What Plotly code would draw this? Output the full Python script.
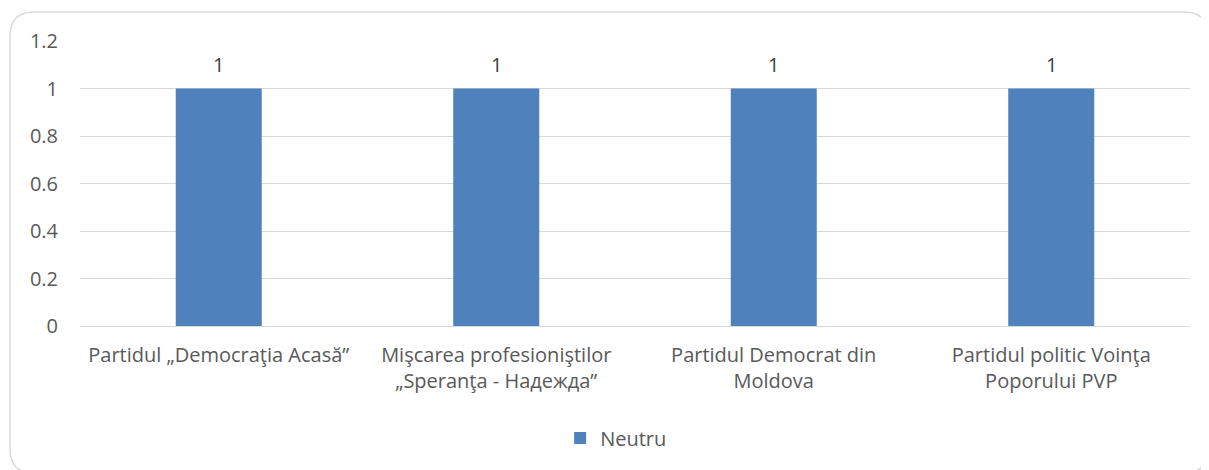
import plotly.graph_objects as go

categories = [
    "Partidul „Democraţia Acasă”",
    "Mişcarea profesioniştilor<br>„Speranţa - Надежда”",
    "Partidul Democrat din<br>Moldova",
    "Partidul politic Voinţa<br>Poporului PVP",
]
series_name = "Neutru"
values = [1, 1, 1, 1]
y_ticks = [0, 0.2, 0.4, 0.6, 0.8, 1, 1.2]
y_tick_labels = ["0", "0.2", "0.4", "0.6", "0.8", "1", "1.2"]

# page body has an 8px margin; compensate so the figure fills the window
OFF = 8
W, H = 1209 - OFF, 470 - OFF
ML, MR, MT, MB = 80 - OFF, 19, 41 - OFF, 144
PW, PH = W - ML - MR, H - MT - MB

FONT = "Open Sans, sans-serif"
GREY = "#595959"
FS = 20

fig = go.Figure()
fig.add_trace(go.Bar(
    x=categories, y=values, name=series_name,
    marker=dict(color="#4f81bd", line=dict(width=0)),
    width=0.31,
))

for c, v in zip(categories, values):
    fig.add_annotation(x=c, y=v, text=str(v), showarrow=False,
                       yshift=24, font=dict(size=FS, color="#404040", family=FONT))

# rounded outer border (paper coordinates), page-pixel positions
def px_x(x):
    return (x - OFF - ML) / PW

def px_y(y):
    return (OFF + MT + PH - y) / PH

x0, x1, y0, y1, r = 10, 1208, 12, 473, 24
path = (
    f"M {px_x(x0 + r)} {px_y(y0)} L {px_x(x1 - r)} {px_y(y0)} "
    f"Q {px_x(x1)} {px_y(y0)} {px_x(x1)} {px_y(y0 + r)} "
    f"L {px_x(x1)} {px_y(y1 - r)} Q {px_x(x1)} {px_y(y1)} {px_x(x1 - r)} {px_y(y1)} "
    f"L {px_x(x0 + r)} {px_y(y1)} Q {px_x(x0)} {px_y(y1)} {px_x(x0)} {px_y(y1 - r)} "
    f"L {px_x(x0)} {px_y(y0 + r)} Q {px_x(x0)} {px_y(y0)} {px_x(x0 + r)} {px_y(y0)} Z"
)
fig.add_shape(type="path", path=path, xref="paper", yref="paper",
              line=dict(color="#d9d9d9", width=1.5), layer="below")

fig.update_layout(
    width=W, height=H,
    margin=dict(l=ML, r=MR, t=MT, b=MB, autoexpand=False),
    paper_bgcolor="white", plot_bgcolor="white",
    font=dict(family=FONT, size=FS, color=GREY),
    showlegend=True,
    legend=dict(orientation="h", x=0.483, xanchor="center",
                y=(OFF + MT + PH - 438) / PH, yanchor="middle",
                font=dict(size=FS, color=GREY, family=FONT)),
    bargap=0.69,
)
fig.update_xaxes(showgrid=False, showline=False, ticks="", tickangle=0,
                 ticklabelstandoff=15,
                 tickfont=dict(size=FS, color=GREY, family=FONT))
fig.update_yaxes(range=[0, 1.2], tickvals=y_ticks, ticktext=y_tick_labels,
                 showgrid=True, gridcolor="#d9d9d9", gridwidth=1.3,
                 zeroline=True, zerolinecolor="#d9d9d9", zerolinewidth=1.3,
                 showline=False, ticks="outside", ticklen=17, tickcolor="rgba(0,0,0,0)",
                 tickfont=dict(size=FS, color=GREY, family=FONT))

fig.write_html("out.html")
